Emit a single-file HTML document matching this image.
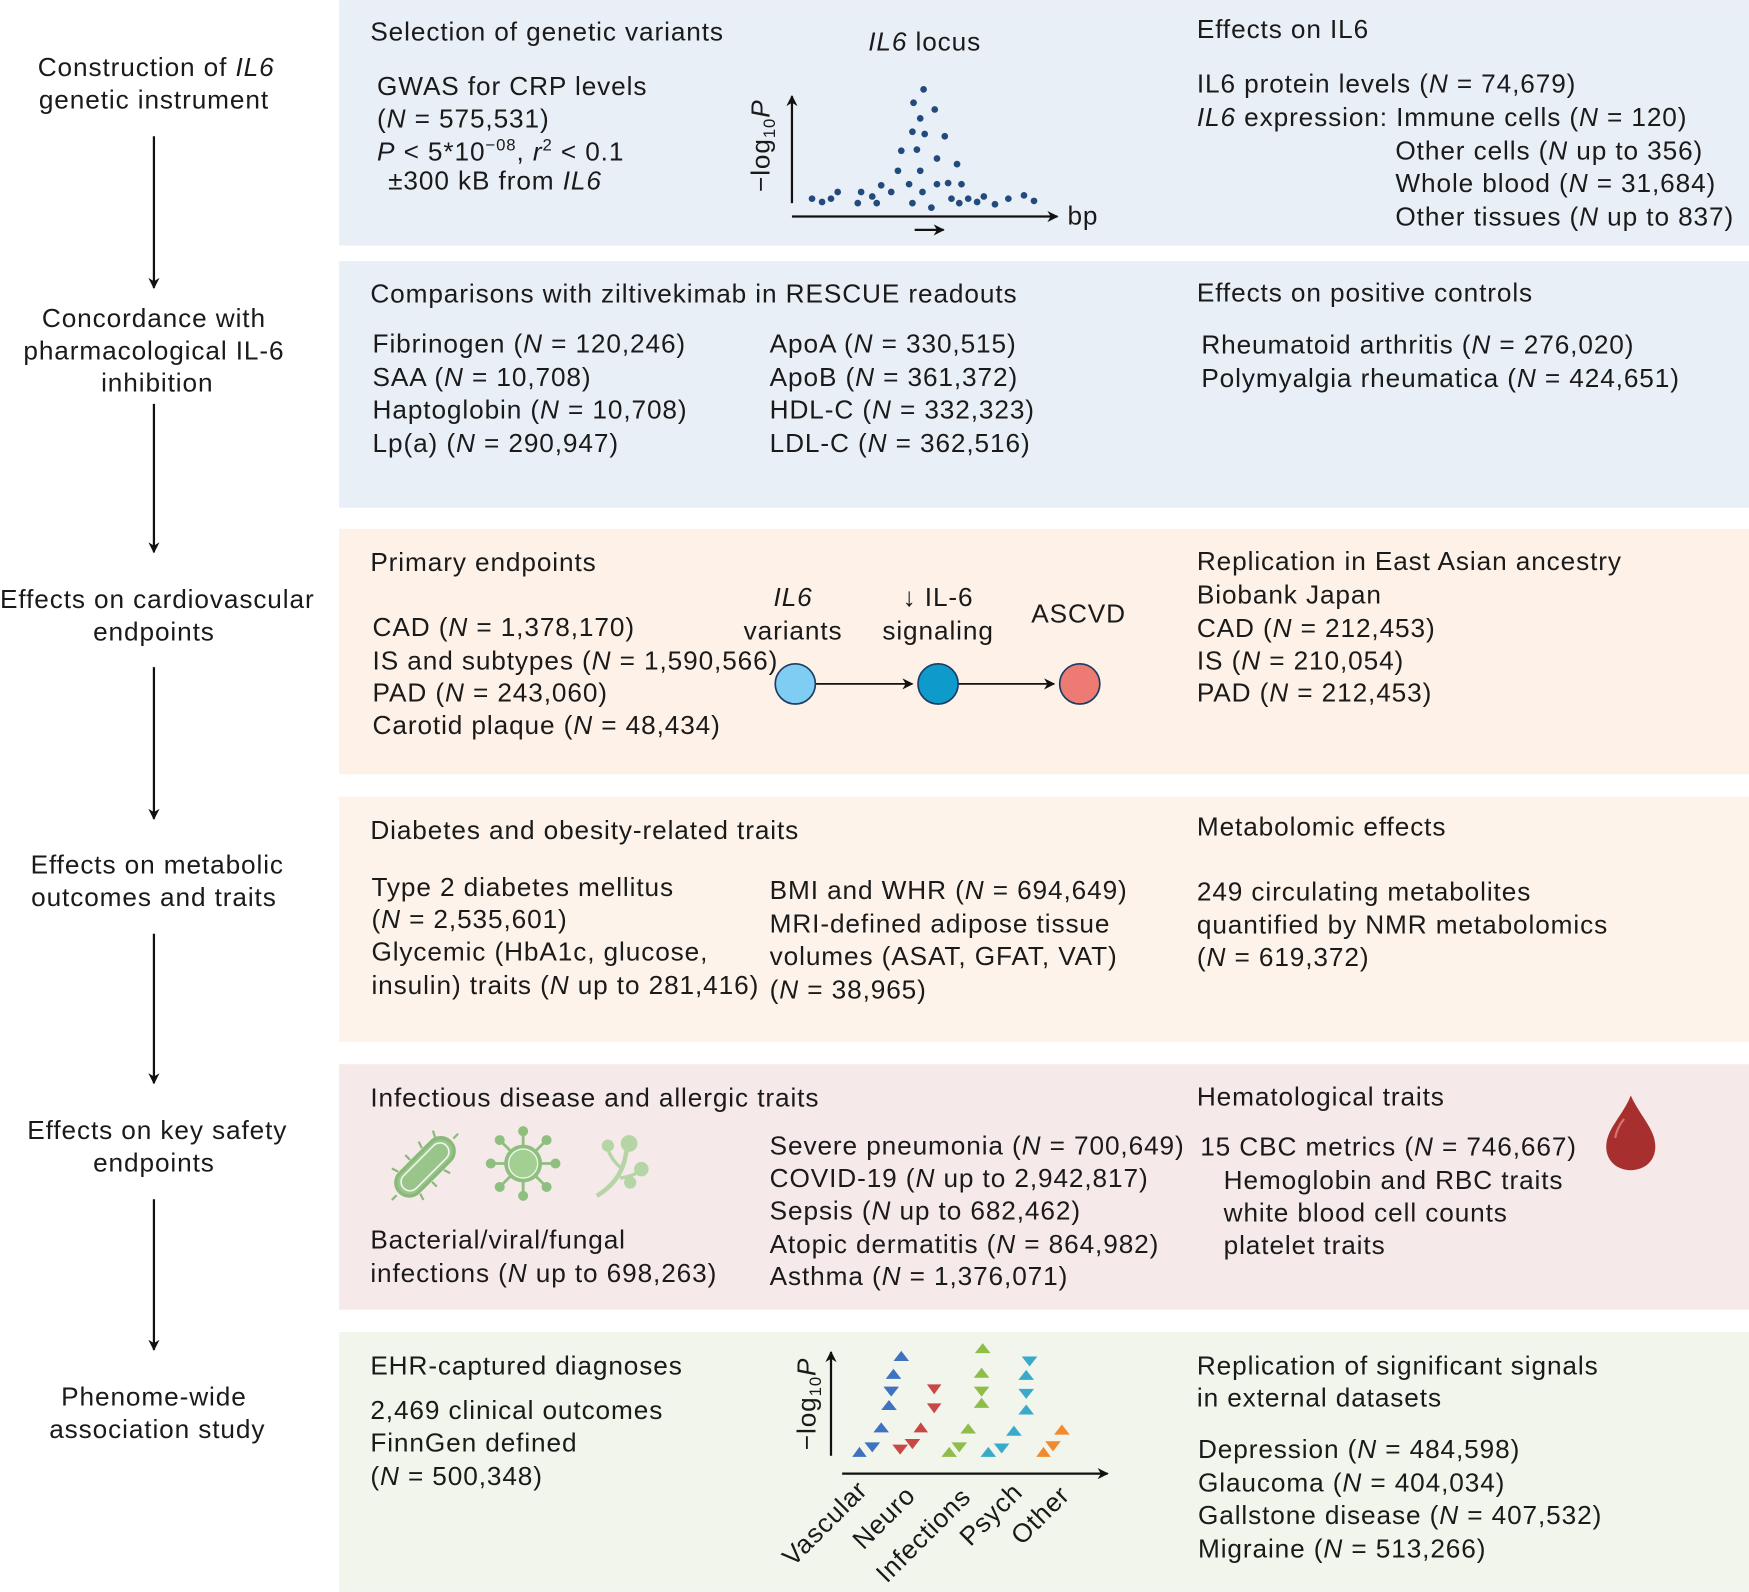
<!DOCTYPE html>
<html><head><meta charset="utf-8"><style>
html,body{margin:0;padding:0;background:#fff}
svg{display:block}
text{font-family:"Liberation Sans",Arial,sans-serif;font-size:23.5px;letter-spacing:0.8px;fill:#1a1a1a}
.c{text-anchor:middle}
</style></head><body>
<svg width="1749" height="1592" viewBox="0 0 1568 1427" xmlns="http://www.w3.org/2000/svg">
<defs>
<marker id="ah" markerWidth="10" markerHeight="10" refX="9" refY="5" orient="auto" markerUnits="userSpaceOnUse"><path d="M0,0 L10,5 L0,10 L3,5 Z" fill="#111"/></marker>
</defs>
<rect x="304" y="0" width="1264" height="220" fill="#e9eff6"/>
<rect x="304" y="234" width="1264" height="221" fill="#e9eff6"/>
<rect x="304" y="474" width="1264" height="220" fill="#fdf1e8"/>
<rect x="304" y="714" width="1264" height="220" fill="#fdf3ea"/>
<rect x="304" y="954" width="1264" height="220" fill="#f6e9ea"/>
<rect x="304" y="1194" width="1264" height="233" fill="#f1f5ec"/>

<g>
<text x="140" y="68" class="c">Construction of <tspan font-style="italic">IL6</tspan></text>
<text x="138" y="97" class="c">genetic instrument</text>
<text x="138" y="293" class="c">Concordance with</text>
<text x="138" y="322" class="c">pharmacological IL-6</text>
<text x="141" y="351" class="c">inhibition</text>
<text x="141" y="545" class="c">Effects on cardiovascular</text>
<text x="138" y="574" class="c">endpoints</text>
<text x="141" y="783" class="c">Effects on metabolic</text>
<text x="138" y="812" class="c">outcomes and traits</text>
<text x="141" y="1021" class="c">Effects on key safety</text>
<text x="138" y="1050" class="c">endpoints</text>
<text x="138" y="1260" class="c">Phenome-wide</text>
<text x="141" y="1289" class="c">association study</text>
</g>
<g stroke="#111" stroke-width="2" marker-end="url(#ah)">
<line x1="138" y1="122" x2="138" y2="258"/>
<line x1="138" y1="362" x2="138" y2="495"/>
<line x1="138" y1="598" x2="138" y2="734"/>
<line x1="138" y1="837" x2="138" y2="971"/>
<line x1="138" y1="1075" x2="138" y2="1210"/>
</g>

<text x="332" y="36">Selection of genetic variants</text>
<text x="338" y="85">GWAS for CRP levels</text>
<text x="338" y="114">(<tspan font-style="italic">N</tspan> = 575,531)</text>
<text x="338" y="144"><tspan font-style="italic">P</tspan> &lt; 5*10<tspan font-size="15" dy="-9">−08</tspan><tspan dy="9">, </tspan><tspan font-style="italic">r</tspan><tspan font-size="15" dy="-9">2</tspan><tspan dy="9"> &lt; 0.1</tspan></text>
<text x="348" y="170">±300 kB from <tspan font-style="italic">IL6</tspan></text>
<text x="829" y="45" class="c"><tspan font-style="italic">IL6</tspan> locus</text>
<text transform="translate(690,172) rotate(-90)"><tspan>−log</tspan><tspan font-size="15" dy="5">10</tspan><tspan dy="-5" font-style="italic">P</tspan></text>
<g stroke="#111" stroke-width="2">
<line x1="710" y1="182" x2="710" y2="86" marker-end="url(#ah)"/>
<line x1="710" y1="194" x2="948" y2="194" marker-end="url(#ah)"/>
<line x1="820" y1="206" x2="846" y2="206" marker-end="url(#ah)"/>
</g>
<text x="957" y="201">bp</text>
<g fill="#234a7c">
<circle cx="828" cy="80" r="3"/><circle cx="819" cy="92" r="3"/><circle cx="838" cy="98" r="3"/><circle cx="825" cy="106" r="3"/><circle cx="818" cy="118" r="3"/><circle cx="829" cy="120" r="3"/><circle cx="847" cy="122" r="3"/><circle cx="808" cy="135" r="3"/><circle cx="822" cy="134" r="3"/><circle cx="840" cy="142" r="3"/><circle cx="805" cy="153" r="3"/><circle cx="825" cy="153" r="3"/><circle cx="858" cy="147" r="3"/><circle cx="790" cy="166" r="3"/><circle cx="815" cy="165" r="3"/><circle cx="840" cy="165" r="3"/><circle cx="862" cy="165" r="3"/><circle cx="772" cy="172" r="3"/><circle cx="782" cy="176" r="3"/><circle cx="799" cy="172" r="3"/><circle cx="827" cy="172" r="3"/><circle cx="853" cy="178" r="3"/><circle cx="868" cy="178" r="3"/><circle cx="882" cy="176" r="3"/><circle cx="745" cy="178" r="3"/><circle cx="728" cy="178" r="3"/><circle cx="751" cy="172" r="3"/><circle cx="737" cy="181" r="3"/><circle cx="769" cy="182" r="3"/><circle cx="786" cy="182" r="3"/><circle cx="818" cy="182" r="3"/><circle cx="835" cy="186" r="3"/><circle cx="860" cy="182" r="3"/><circle cx="876" cy="181" r="3"/><circle cx="892" cy="183" r="3"/><circle cx="904" cy="178" r="3"/><circle cx="918" cy="175" r="3"/><circle cx="927" cy="180" r="3"/><circle cx="850" cy="164" r="3"/>
</g>
<text x="1073" y="34">Effects on IL6</text>
<text x="1073" y="83">IL6 protein levels (<tspan font-style="italic">N</tspan> = 74,679)</text>
<text x="1073" y="113"><tspan font-style="italic">IL6</tspan> expression: Immune cells (<tspan font-style="italic">N</tspan> = 120)</text>
<text x="1251" y="143">Other cells (<tspan font-style="italic">N</tspan> up to 356)</text>
<text x="1251" y="172">Whole blood (<tspan font-style="italic">N</tspan> = 31,684)</text>
<text x="1251" y="202">Other tissues (<tspan font-style="italic">N</tspan> up to 837)</text>

<text x="332" y="271">Comparisons with ziltivekimab in RESCUE readouts</text>
<text x="334" y="316">Fibrinogen (<tspan font-style="italic">N</tspan> = 120,246)</text>
<text x="334" y="346">SAA (<tspan font-style="italic">N</tspan> = 10,708)</text>
<text x="334" y="375">Haptoglobin (<tspan font-style="italic">N</tspan> = 10,708)</text>
<text x="334" y="405">Lp(a) (<tspan font-style="italic">N</tspan> = 290,947)</text>
<text x="690" y="316">ApoA (<tspan font-style="italic">N</tspan> = 330,515)</text>
<text x="690" y="346">ApoB (<tspan font-style="italic">N</tspan> = 361,372)</text>
<text x="690" y="375">HDL-C (<tspan font-style="italic">N</tspan> = 332,323)</text>
<text x="690" y="405">LDL-C (<tspan font-style="italic">N</tspan> = 362,516)</text>
<text x="1073" y="270">Effects on positive controls</text>
<text x="1077" y="317">Rheumatoid arthritis (<tspan font-style="italic">N</tspan> = 276,020)</text>
<text x="1077" y="347">Polymyalgia rheumatica (<tspan font-style="italic">N</tspan> = 424,651)</text>

<text x="332" y="512">Primary endpoints</text>
<text x="334" y="570">CAD (<tspan font-style="italic">N</tspan> = 1,378,170)</text>
<text x="334" y="600">IS and subtypes (<tspan font-style="italic">N</tspan> = 1,590,566)</text>
<text x="334" y="629">PAD (<tspan font-style="italic">N</tspan> = 243,060)</text>
<text x="334" y="658">Carotid plaque (<tspan font-style="italic">N</tspan> = 48,434)</text>
<text x="711" y="543" class="c" font-style="italic">IL6</text>
<text x="711" y="573" class="c">variants</text>
<text x="841" y="543" class="c">↓ IL-6</text>
<text x="841" y="573" class="c">signaling</text>
<text x="967" y="558" class="c">ASCVD</text>
<g stroke="#111" stroke-width="1.6">
<line x1="731" y1="613" x2="818" y2="613" marker-end="url(#ah)"/>
<line x1="859" y1="613" x2="945" y2="613" marker-end="url(#ah)"/>
</g>
<circle cx="713" cy="613" r="18" fill="#7fcdf2" stroke="#1c3c66" stroke-width="1.5"/>
<circle cx="841" cy="613" r="18" fill="#0e9acb" stroke="#1c3c66" stroke-width="1.5"/>
<circle cx="968" cy="613" r="18" fill="#ee7b73" stroke="#1c3c66" stroke-width="1.5"/>
<text x="1073" y="511">Replication in East Asian ancestry</text>
<text x="1073" y="541">Biobank Japan</text>
<text x="1073" y="571">CAD (<tspan font-style="italic">N</tspan> = 212,453)</text>
<text x="1073" y="600">IS (<tspan font-style="italic">N</tspan> = 210,054)</text>
<text x="1073" y="629">PAD (<tspan font-style="italic">N</tspan> = 212,453)</text>

<text x="332" y="752">Diabetes and obesity-related traits</text>
<text x="333" y="803">Type 2 diabetes mellitus</text>
<text x="333" y="832">(<tspan font-style="italic">N</tspan> = 2,535,601)</text>
<text x="333" y="861">Glycemic (HbA1c, glucose,</text>
<text x="333" y="891">insulin) traits (<tspan font-style="italic">N</tspan> up to 281,416)</text>
<text x="690" y="806">BMI and WHR (<tspan font-style="italic">N</tspan> = 694,649)</text>
<text x="690" y="836">MRI-defined adipose tissue</text>
<text x="690" y="865">volumes (ASAT, GFAT, VAT)</text>
<text x="690" y="895">(<tspan font-style="italic">N</tspan> = 38,965)</text>
<text x="1073" y="749">Metabolomic effects</text>
<text x="1073" y="807">249 circulating metabolites</text>
<text x="1073" y="837">quantified by NMR metabolomics</text>
<text x="1073" y="866">(<tspan font-style="italic">N</tspan> = 619,372)</text>

<text x="332" y="992">Infectious disease and allergic traits</text>
<g transform="translate(381,1046) rotate(-45)">
<rect x="-32" y="-12" width="64" height="24" rx="12" fill="#9ac58a" stroke="#8ab97a" stroke-width="3"/>
<rect x="-27" y="-8" width="54" height="16" rx="8" fill="none" stroke="#eef5ea" stroke-width="1.5"/>
<g stroke="#8ab97a" stroke-width="2"><line x1="-20" y1="-14" x2="-22" y2="-20"/><line x1="-5" y1="-14" x2="-5" y2="-20"/><line x1="10" y1="-14" x2="12" y2="-20"/><line x1="25" y1="-12" x2="28" y2="-18"/><line x1="-20" y1="14" x2="-22" y2="20"/><line x1="-5" y1="14" x2="-5" y2="20"/><line x1="10" y1="14" x2="12" y2="20"/><line x1="-36" y1="0" x2="-42" y2="0"/><line x1="36" y1="0" x2="42" y2="0"/></g>
</g>
<g transform="translate(469,1043)" fill="#8fbf7e" stroke="#8fbf7e">
<g stroke-width="2.5"><line x1="-28" y1="0" x2="28" y2="0"/><line x1="0" y1="-28" x2="0" y2="28"/><line x1="-20" y1="-20" x2="20" y2="20"/><line x1="-20" y1="20" x2="20" y2="-20"/></g>
<circle r="4" cx="-29" cy="0"/><circle r="4" cx="29" cy="0"/><circle r="4" cx="0" cy="-29"/><circle r="4" cx="0" cy="29"/><circle r="4" cx="-21" cy="-21"/><circle r="4" cx="21" cy="21"/><circle r="4" cx="-21" cy="21"/><circle r="4" cx="21" cy="-21"/>
<circle r="17" stroke="none"/><circle r="13" fill="#a3cf93" stroke="#eef5ea" stroke-width="1.2"/>
</g>
<g fill="#b5d5a6" stroke="#b5d5a6">
<path d="M535,1072 Q555,1060 560,1040 Q562,1030 564,1024" stroke-width="4" fill="none"/>
<path d="M558,1048 Q548,1040 545,1030" stroke-width="3" fill="none"/>
<path d="M556,1056 Q565,1055 574,1050" stroke-width="3" fill="none"/>
<circle cx="564" cy="1025" r="7"/><circle cx="545" cy="1027" r="5"/><circle cx="575" cy="1048" r="6"/><circle cx="565" cy="1060" r="5"/>
</g>
<text x="332" y="1119">Bacterial/viral/fungal</text>
<text x="332" y="1149">infections (<tspan font-style="italic">N</tspan> up to 698,263)</text>
<text x="690" y="1035">Severe pneumonia (<tspan font-style="italic">N</tspan> = 700,649)</text>
<text x="690" y="1064">COVID-19 (<tspan font-style="italic">N</tspan> up to 2,942,817)</text>
<text x="690" y="1093">Sepsis (<tspan font-style="italic">N</tspan> up to 682,462)</text>
<text x="690" y="1123">Atopic dermatitis (<tspan font-style="italic">N</tspan> = 864,982)</text>
<text x="690" y="1152">Asthma (<tspan font-style="italic">N</tspan> = 1,376,071)</text>
<text x="1073" y="991">Hematological traits</text>
<text x="1076" y="1036">15 CBC metrics (<tspan font-style="italic">N</tspan> = 746,667)</text>
<text x="1097" y="1066">Hemoglobin and RBC traits</text>
<text x="1097" y="1095">white blood cell counts</text>
<text x="1097" y="1124">platelet traits</text>
<path d="M1462,982 C1470,1000 1484,1012 1484,1028 C1484,1041 1474,1049 1462,1049 C1450,1049 1440,1041 1440,1028 C1440,1012 1455,1000 1462,982 Z" fill="#a7302e"/>
<path d="M1448,1020 Q1450,1010 1456,1003" stroke="#d8746f" stroke-width="2" fill="none"/>

<text x="332" y="1232">EHR-captured diagnoses</text>
<text x="332" y="1272">2,469 clinical outcomes</text>
<text x="332" y="1301">FinnGen defined</text>
<text x="332" y="1331">(<tspan font-style="italic">N</tspan> = 500,348)</text>
<text transform="translate(731,1300) rotate(-90)"><tspan>−log</tspan><tspan font-size="15" dy="5">10</tspan><tspan dy="-5" font-style="italic">P</tspan></text>
<g stroke="#111" stroke-width="2">
<line x1="745" y1="1305" x2="745" y2="1212" marker-end="url(#ah)"/>
<line x1="755" y1="1321" x2="993" y2="1321" marker-end="url(#ah)"/>
</g>
<g>
<g fill="#4072c0">
<polygon points="764,1306 777,1306 770.5,1297"/><polygon points="775,1293 789,1293 782,1302"/><polygon points="783,1284 797,1284 790,1275"/><polygon points="790,1264 804,1264 797,1255"/><polygon points="792,1243 806,1243 799,1252"/><polygon points="794,1236 808,1236 801,1227"/><polygon points="801,1220 815,1220 808,1211"/>
</g>
<g fill="#c94845">
<polygon points="800,1295 814,1295 807,1304"/><polygon points="811,1290 825,1290 818,1299"/><polygon points="819,1284 832,1284 825.5,1275"/><polygon points="831,1258 844,1258 837.5,1267"/><polygon points="831,1241 844,1241 837.5,1250"/>
</g>
<g fill="#8fbd4a">
<polygon points="844,1306 858,1306 851,1297"/><polygon points="853,1293 867,1293 860,1302"/><polygon points="861,1285 875,1285 868,1276"/><polygon points="873,1262 887,1262 880,1253"/><polygon points="873,1243 887,1243 880,1252"/><polygon points="873,1235 887,1235 880,1226"/><polygon points="874,1213 888,1213 881,1204"/>
</g>
<g fill="#3aaacb">
<polygon points="879,1306 893,1306 886,1297"/><polygon points="891,1294 905,1294 898,1303"/><polygon points="902,1287 916,1287 909,1278"/><polygon points="913,1268 927,1268 920,1259"/><polygon points="913,1245 927,1245 920,1254"/><polygon points="913,1237 927,1237 920,1228"/><polygon points="916,1216 930,1216 923,1225"/>
</g>
<g fill="#f08a2c">
<polygon points="929,1306 942,1306 935.5,1297"/><polygon points="937,1292 951,1292 944,1301"/><polygon points="945,1286 959,1286 952,1277"/>
</g>
</g>
<g>
<text transform="translate(711,1405) rotate(-45)">Vascular</text>
<text transform="translate(774,1390) rotate(-45)">Neuro</text>
<text transform="translate(795,1420) rotate(-45)">Infections</text>
<text transform="translate(870,1387) rotate(-45)">Psych</text>
<text transform="translate(916,1386) rotate(-45)">Other</text>
</g>
<text x="1073" y="1232">Replication of significant signals</text>
<text x="1073" y="1261">in external datasets</text>
<text x="1074" y="1307">Depression (<tspan font-style="italic">N</tspan> = 484,598)</text>
<text x="1074" y="1337">Glaucoma (<tspan font-style="italic">N</tspan> = 404,034)</text>
<text x="1074" y="1366">Gallstone disease (<tspan font-style="italic">N</tspan> = 407,532)</text>
<text x="1074" y="1396">Migraine (<tspan font-style="italic">N</tspan> = 513,266)</text>
</svg>
</body></html>
